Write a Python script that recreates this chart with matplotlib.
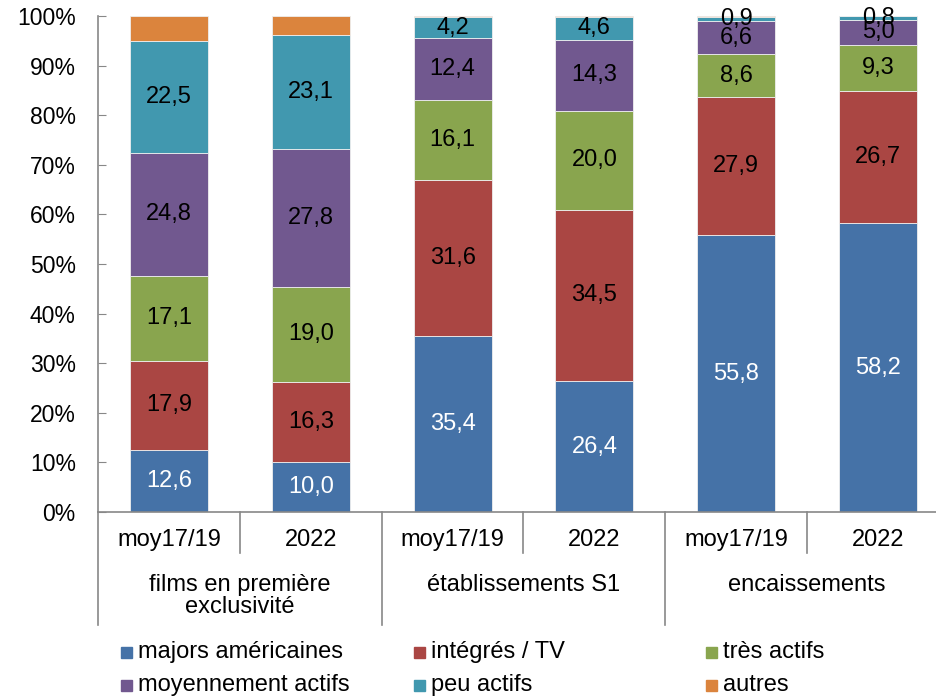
import numpy as np
import matplotlib
matplotlib.use('Agg')
import matplotlib.pyplot as plt
from matplotlib.transforms import blended_transform_factory
from matplotlib.patches import Rectangle

plt.rcParams['font.family'] = ['Liberation Sans', 'DejaVu Sans']
plt.rcParams['font.size'] = 17

# data
periods = ['moy17/19', '2022', 'moy17/19', '2022', 'moy17/19', '2022']
groups = ['films en première\nexclusivité', 'établissements S1', 'encaissements']
series = ['majors américaines', 'intégrés / TV', 'très actifs',
          'moyennement actifs', 'peu actifs', 'autres']
majors = [12.6, 10.0, 35.4, 26.4, 55.8, 58.2]
integres = [17.9, 16.3, 31.6, 34.5, 27.9, 26.7]
tres_actifs = [17.1, 19.0, 16.1, 20.0, 8.6, 9.3]
moyen_actifs = [24.8, 27.8, 12.4, 14.3, 6.6, 5.0]
peu_actifs = [22.5, 23.1, 4.2, 4.6, 0.9, 0.8]
autres = [5.1, 3.8, 0.3, 0.2, 0.2, 0.0]

colors = ['#4572A7', '#AA4643', '#89A54E', '#71588F', '#4198AF', '#DB843D']
values = [majors, integres, tres_actifs, moyen_actifs, peu_actifs, autres]

W, H = 936, 696
fig = plt.figure(figsize=(W / 100, H / 100), dpi=100)
# plot area runs a bit past the right edge like the original
ax = fig.add_axes([98 / W, 1 - 512 / H, (949 - 98) / W, 496 / H])

x = np.arange(len(periods))
bottom = np.zeros(len(periods))
for i, (name, vals) in enumerate(zip(series, values)):
    vals = np.array(vals)
    ax.bar(x, vals / 100, 0.55, bottom=bottom / 100, color=colors[i],
           edgecolor='#eeeeee', linewidth=0.6, label=name)
    if name != 'autres':
        for xi, b, v in zip(x, bottom, vals):
            txt = f'{v:.1f}'.replace('.', ',')
            ax.text(xi, (b + v / 2) / 100, txt, ha='center', va='center',
                    color='white' if i == 0 else 'black', fontsize=17)
    bottom += vals

ax.set_xlim(-0.5, len(periods) - 0.5)
ax.set_ylim(0, 1)
yt = np.arange(0, 1.01, 0.1)
ax.set_yticks(yt)
ax.set_yticklabels([f'{int(round(t * 100))}%' for t in yt], fontsize=16.5)
ax.tick_params(axis='y', direction='in', length=6, color='#888888', pad=16)
ax.set_xticks([])
for s in ['top', 'right']:
    ax.spines[s].set_visible(False)
for s in ['left', 'bottom']:
    ax.spines[s].set_color('#888888')
    ax.spines[s].set_linewidth(1.2)

# multi-level category axis
tr = blended_transform_factory(ax.transData, ax.transAxes)
for xi, p in zip(x, periods):
    ax.text(xi, -28 / 496, p, transform=tr, ha='center', va='center')
for k, g in enumerate(groups):
    for j, line in enumerate(g.split('\n')):
        ax.text(2 * k + 0.5, -(73 + 22 * j) / 496, line, transform=tr,
                ha='center', va='center')
for k in range(len(periods)):
    xb = k - 0.5
    depth = -113 / 496 if k % 2 == 0 else -41 / 496
    ax.plot([xb, xb], [0, depth], transform=tr, color='#888888', lw=1.2,
            clip_on=False)

# legend
col_x = [121, 414, 706]
row_y = [652, 685]
for i, name in enumerate(series):
    cx = col_x[i % 3]
    cy = row_y[i // 3]
    fig.patches.append(Rectangle((cx / W, 1 - (cy + 5.5) / H), 11 / W, 11 / H,
                                 transform=fig.transFigure, color=colors[i]))
    fig.text((cx + 17) / W, 1 - cy / H, name, ha='left', va='center')

fig.savefig('out.png', dpi=100)
